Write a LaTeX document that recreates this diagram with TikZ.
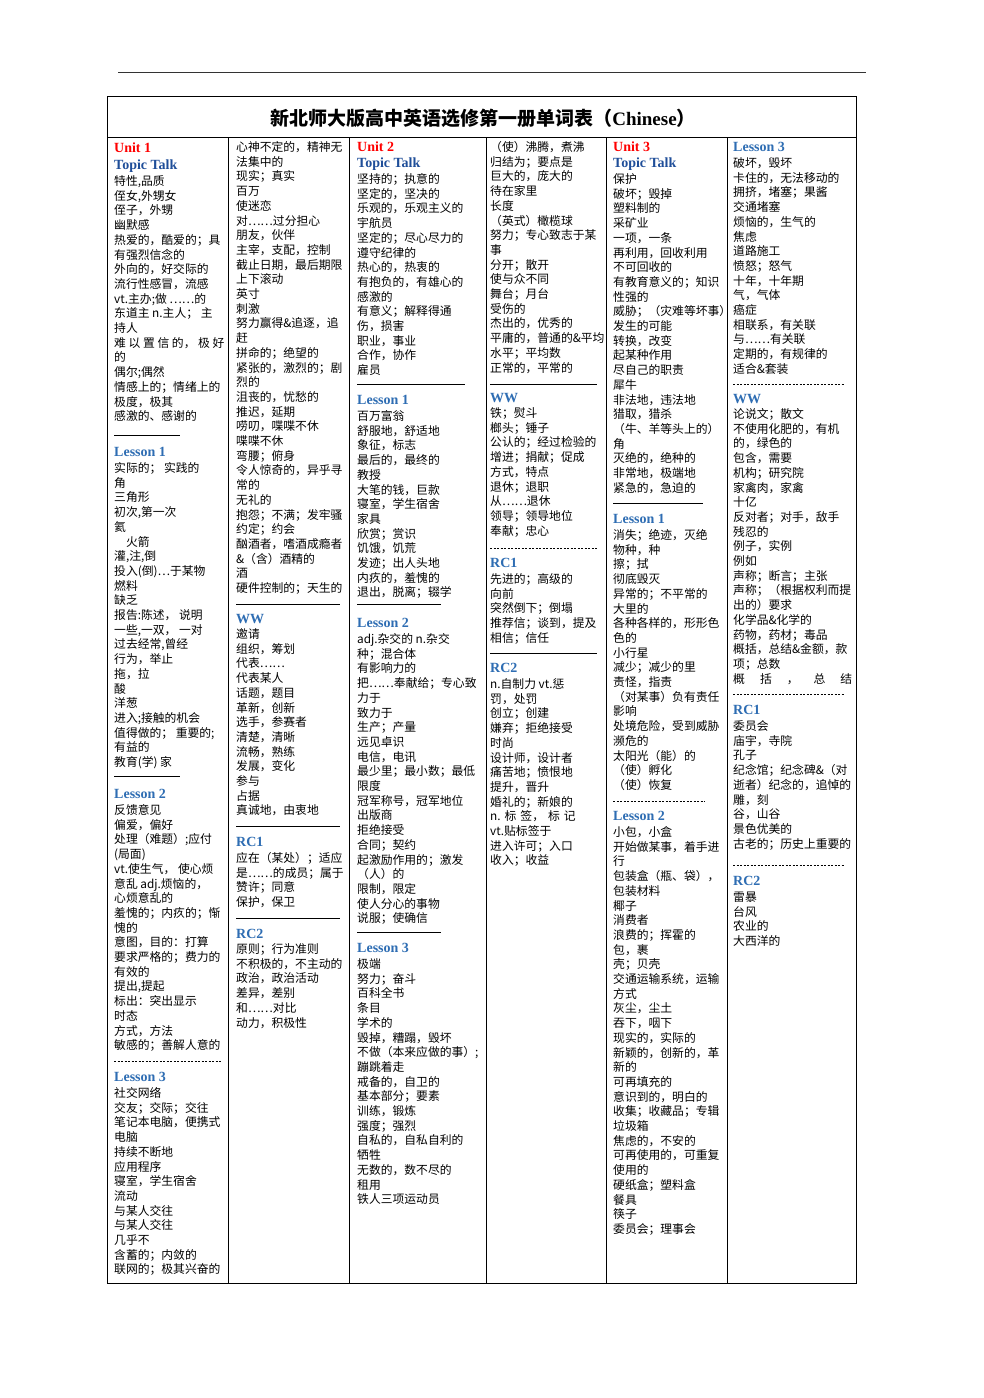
\documentclass[tikz,border=0pt]{standalone}
\usepackage{fontspec}
\setmainfont{Liberation Serif}
\newfontfamily\cjk{Noto Sans CJK SC}
\newfontfamily\hdfont{Liberation Serif}
\definecolor{unitred}{HTML}{FF0000}
\definecolor{topicblue}{HTML}{1F4E99}
\definecolor{lessonblue}{HTML}{2E6DB3}
\tikzset{
 ln/.style={anchor=west, inner sep=0pt, font=\cjk\fontsize{11.8}{14}\selectfont, text height=10.4pt, text depth=1.4pt},
 hd/.style={anchor=west, inner sep=0pt, font=\hdfont\bfseries\fontsize{14}{16}\selectfont, text height=10.4pt, text depth=1.4pt},
 unithd/.style={hd, text=unitred},
 topichd/.style={hd, text=topicblue},
 lessonhd/.style={hd, text=lessonblue},
 solidsep/.style={line width=0.8pt},
 dashsep/.style={line width=0.6pt, dash pattern=on 2pt off 1.5pt},
 frameline/.style={line width=0.8pt}
}
\newcommand\blk[3]{\foreach \t [count=\i from 0] in {#3}{\node[ln] at (#1,{#2+\i*14.7}) {\t};}}
\begin{document}
\begin{tikzpicture}[x=1pt,y=-1pt]
\useasboundingbox (0,0) rectangle (983,1398);
\fill[white] (0,0) rectangle (983,1398);
% top rule
\draw[line width=0.8pt, black!80] (118,72) -- (866,72);
% table frame
\draw[frameline] (107,96) rectangle (856,1283);
\draw[frameline] (107,137) -- (856,137);
\foreach \c in {228,349,486,606,727} \draw[frameline] (\c,137) -- (\c,1283);
% title
\node[inner sep=0pt, font=\cjk\bfseries\fontsize{19}{22}\selectfont] (title) at (483,118) {新北师大版高中英语选修第一册单词表（{\hdfont\bfseries Chinese}）};

% ---------- column 1 ----------
\node[unithd] (c1u) at (114,148) {Unit 1};
\node[topichd] (c1t) at (114,165) {Topic Talk};
\blk{114}{181}{{特性,品质},{侄女,外甥女},{侄子，外甥},{幽默感},{热爱的，酷爱的；具},{有强烈信念的},{外向的，好交际的},{流行性感冒，流感},{vt.主办;做 ……的},{东道主 n.主人； 主},{持人},{难 以 置 信 的， 极 好},{的},{偶尔;偶然},{情感上的；情绪上的},{极度，极其},{感激的、感谢的}}
\draw[solidsep] (114,435) -- (180,435);
\node[lessonhd] (c1l1) at (114,452) {Lesson 1};
\blk{114}{468}{{实际的； 实践的},{角},{三角形},{初次,第一次},{氦},{　火箭},{灌,注,倒},{投入(倒)…于某物},{燃料},{缺乏},{报告:陈述， 说明},{一些,一双， 一对},{过去经常,曾经},{行为，举止},{拖，拉},{酸},{洋葱},{进入;接触的机会},{值得做的； 重要的;},{有益的},{教育(学) 家}}
\draw[solidsep] (114,776) -- (180,776);
\node[lessonhd] (c1l2) at (114,794) {Lesson 2};
\blk{114}{810}{{反馈意见},{偏爱，偏好},{处理（难题）;应付},{(局面)},{vt.使生气， 使心烦},{意乱 adj.烦恼的，},{心烦意乱的},{羞愧的；内疚的；惭},{愧的},{意图，目的：打算},{要求严格的；费力的},{有效的},{提出,提起},{标出：突出显示},{时态},{方式，方法},{敏感的；善解人意的}}
\draw[dashsep] (114,1061) -- (222,1061);
\node[lessonhd] (c1l3) at (114,1077) {Lesson 3};
\blk{114}{1093}{{社交网络},{交友；交际；交往},{笔记本电脑，便携式},{电脑},{持续不断地},{应用程序},{寝室，学生宿舍},{流动},{与某人交往},{与某人交往},{几乎不},{含蓄的；内敛的},{联网的；极其兴奋的}}

% ---------- column 2 ----------
\blk{236}{147}{{心神不定的，精神无},{法集中的},{现实；真实},{百万},{使迷恋},{对……过分担心},{朋友，伙伴},{主宰，支配，控制},{截止日期，最后期限},{上下滚动},{英寸},{刺激},{努力赢得\&追逐，追},{赶},{拼命的；绝望的},{紧张的，激烈的；剧},{烈的},{沮丧的，忧愁的},{推迟，延期},{唠叨，喋喋不休},{喋喋不休},{弯腰；俯身},{令人惊奇的，异乎寻},{常的},{无礼的},{抱怨；不满；发牢骚},{约定；约会},{酗酒者，嗜酒成瘾者},{\&（含）酒精的},{酒},{硬件控制的；天生的}}
\draw[solidsep] (236,604) -- (340,604);
\node[lessonhd] (c2ww) at (236,619) {WW};
\blk{236}{634}{{邀请},{组织，筹划},{代表……},{代表某人},{话题，题目},{革新，创新},{选手，参赛者},{清楚，清晰},{流畅，熟练},{发展，变化},{参与},{占据},{真诚地，由衷地}}
\draw[solidsep] (236,826) -- (340,826);
\node[lessonhd] (c2rc1) at (236,842) {RC1};
\blk{236}{858}{{应在（某处）；适应},{是……的成员；属于},{赞许；同意},{保护，保卫}}
\draw[solidsep] (236,918) -- (340,918);
\node[lessonhd] (c2rc2) at (236,934) {RC2};
\blk{236}{949}{{原则；行为准则},{不积极的，不主动的},{政治，政治活动},{差异，差别},{和……对比},{动力，积极性}}

% ---------- column 3 ----------
\node[unithd] (c3u) at (357,147) {Unit 2};
\node[topichd] (c3t) at (357,163) {Topic Talk};
\blk{357}{179}{{坚持的；执意的},{坚定的，坚决的},{乐观的，乐观主义的},{宇航员},{坚定的；尽心尽力的},{遵守纪律的},{热心的，热衷的},{有抱负的，有雄心的},{感激的},{有意义；解释得通},{伤，损害},{职业，事业},{合作，协作},{雇员}}
\draw[solidsep] (357,384) -- (465,384);
\node[lessonhd] (c3l1) at (357,400) {Lesson 1};
\blk{357}{416}{{百万富翁},{舒服地，舒适地},{象征，标志},{最后的，最终的},{教授},{大笔的钱，巨款},{寝室，学生宿舍},{家具},{欣赏；赏识},{饥饿，饥荒},{发迹；出人头地},{内疚的，羞愧的},{退出，脱离；辍学}}
\draw[solidsep] (357,604) -- (441,604);
\node[lessonhd] (c3l2) at (357,623) {Lesson 2};
\blk{357}{639}{{adj.杂交的 n.杂交},{种；混合体},{有影响力的},{把……奉献给；专心致},{力于},{致力于},{生产；产量},{远见卓识},{电信，电讯},{最少里；最小数；最低},{限度},{冠军称号，冠军地位},{出版商},{拒绝接受},{合同；契约},{起激励作用的；激发},{（人）的},{限制，限定},{使人分心的事物},{说服；使确信}}
\draw[solidsep] (357,932) -- (441,932);
\node[lessonhd] (c3l3) at (357,948) {Lesson 3};
\blk{357}{964}{{极端},{努力；奋斗},{百科全书},{条目},{学术的},{毁掉，糟蹋，毁坏},{不做（本来应做的事）;},{蹦跳着走},{戒备的，自卫的},{基本部分；要素},{训练，锻炼},{强度；强烈},{自私的，自私自利的},{牺牲},{无数的，数不尽的},{租用},{铁人三项运动员}}

% ---------- column 4 ----------
\blk{490}{147}{{（使）沸腾，煮沸},{归结为；要点是},{巨大的，庞大的},{待在家里},{长度},{（英式）橄榄球},{努力；专心致志于某},{事},{分开；散开},{使与众不同},{舞台；月台},{受伤的},{杰出的，优秀的},{平庸的，普通的\&平均},{水平；平均数},{正常的，平常的}}
\draw[solidsep] (490,384) -- (597,384);
\node[lessonhd] (c4ww) at (490,398) {WW};
\blk{490}{413}{{铁；熨斗},{榔头；锤子},{公认的；经过检验的},{增进；捐献；促成},{方式，特点},{退休；退职},{从……退休},{领导；领导地位},{奉献；忠心}}
\draw[dashsep] (490,548) -- (597,548);
\node[lessonhd] (c4rc1) at (490,563) {RC1};
\blk{490}{579}{{先进的；高级的},{向前},{突然倒下；倒塌},{推荐信；谈到，提及},{相信；信任}}
\draw[solidsep] (490,653) -- (597,653);
\node[lessonhd] (c4rc2) at (490,668) {RC2};
\blk{490}{684}{{ n.自制力 vt.惩},{罚，处罚},{创立；创建},{嫌弃；拒绝接受},{时尚},{设计师，设计者},{痛苦地；愤恨地},{提升，晋升},{婚礼的；新娘的},{ n.\hspace{4pt}标\hspace{4pt}签，\hspace{4pt}标\hspace{4pt}记},{vt.贴标签于},{进入许可；入口},{收入；收益}}

% ---------- column 5 ----------
\node[unithd] (c5u) at (613,147) {Unit 3};
\node[topichd] (c5t) at (613,163) {Topic Talk};
\blk{613}{179}{{保护},{破坏；毁掉},{塑料制的},{采矿业},{一项，一条},{再利用，回收利用},{不可回收的},{有教育意义的；知识},{性强的},{威胁；（灾难等坏事）},{发生的可能},{转换，改变},{起某种作用},{尽自己的职责},{犀牛},{非法地，违法地},{猎取，猎杀},{（牛、羊等头上的）},{角},{灭绝的，绝种的},{非常地，极端地},{紧急的，急迫的}}
\draw[solidsep] (613,503) -- (703,503);
\node[lessonhd] (c5l1) at (613,519) {Lesson 1};
\blk{613}{535}{{消失；绝迹，灭绝},{物种，种},{擦；拭},{彻底毁灭},{异常的；不平常的},{大里的},{各种各样的，形形色},{色的},{小行星},{减少；减少的里},{责怪，指责},{（对某事）负有责任},{影响},{处境危险，受到威胁},{濒危的},{太阳光（能）的},{（使）孵化},{（使）恢复}}
\draw[dashsep] (613,801) -- (705,801);
\node[lessonhd] (c5l2) at (613,816) {Lesson 2};
\blk{613}{832}{{小包，小盒},{开始做某事，着手进},{行},{包装盒（瓶、袋），},{包装材料},{椰子},{消费者},{浪费的；挥霍的},{包，裹},{壳；贝壳},{交通运输系统，运输},{方式},{灰尘，尘土},{吞下，咽下},{现实的，实际的},{新颖的，创新的，革},{新的},{可再填充的},{意识到的，明白的},{收集；收藏品；专辑},{垃圾箱},{焦虑的，不安的},{可再使用的，可重复},{使用的},{硬纸盒；塑料盒},{餐具},{筷子},{委员会；理事会}}

% ---------- column 6 ----------
\node[lessonhd] (c6l3) at (733,147) {Lesson 3};
\blk{733}{163}{{破坏，毁坏},{卡住的，无法移动的},{拥挤，堵塞；果酱},{交通堵塞},{烦恼的，生气的},{焦虑},{道路施工},{愤怒；怒气},{十年，十年期},{气，气体},{癌症},{相联系，有关联},{与……有关联},{定期的，有规律的},{适合\&套装}}
\draw[dashsep] (733,384) -- (845,384);
\node[lessonhd] (c6ww) at (733,399) {WW};
\blk{733}{414}{{论说文；散文},{不使用化肥的，有机},{的，绿色的},{包含，需要},{机构；研究院},{家禽肉，家禽},{十亿},{反对者；对手，敌手},{残忍的},{例子，实例},{例如},{声称；断言；主张},{声称；（根据权利而提},{出的）要求},{化学品\&化学的},{药物，药材；毒品},{概括，总结\&金额，款},{项；总数},{概\hspace{15pt}括\hspace{15pt}，\hspace{15pt}总\hspace{15pt}结}}
\draw[dashsep] (733,694) -- (845,694);
\node[lessonhd] (c6rc1) at (733,710) {RC1};
\blk{733}{726}{{委员会},{庙宇，寺院},{孔子},{纪念馆；纪念碑\&（对},{逝者）纪念的，追悼的},{雕，刻},{谷，山谷},{景色优美的},{古老的；历史上重要的}}
\draw[dashsep] (733,865) -- (845,865);
\node[lessonhd] (c6rc2) at (733,881) {RC2};
\blk{733}{897}{{雷暴},{台风},{农业的},{大西洋的}}
\end{tikzpicture}
\end{document}
